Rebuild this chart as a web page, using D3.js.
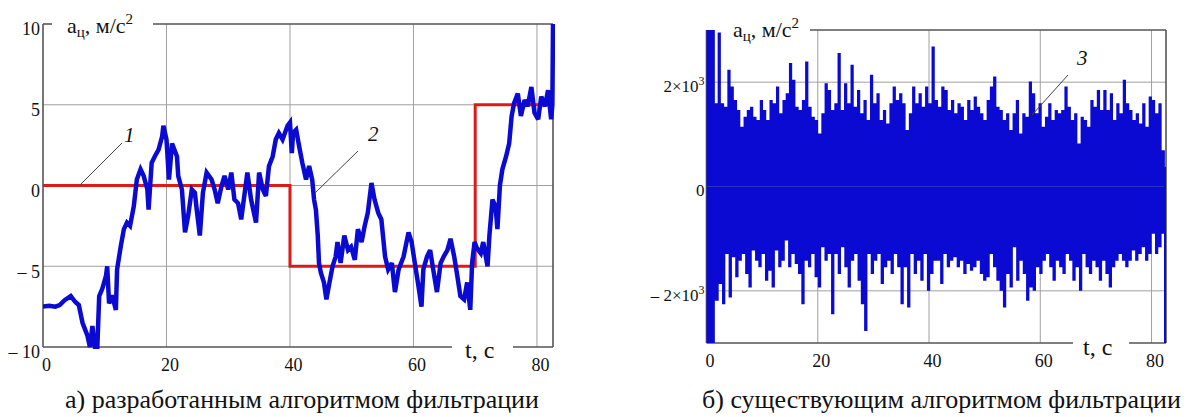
<!DOCTYPE html>
<html>
<head>
<meta charset="utf-8">
<script src="https://cdn.jsdelivr.net/npm/d3@7"></script>
<style>
  body { margin: 0; background: #fff; }
</style>
</head>
<body>
<div id="container"></div>
<script>
// ---- data ----
// (a) step reference, curve 1
const stepT = [0, 40, 40, 70, 70, 82.6];
const stepV = [0, 0, -5, -5, 5, 5];

// (a) filtered signal, curve 2
const filtT = [0,1,2,2.7,3.5,4.5,5.2,5.8,6.4,7.2,7.6,8.0,8.4,8.8,9.1,9.6,10.2,10.4,10.7,11.2,11.8,12.0,12.6,13.1,13.6,14.1,14.7,15.2,15.8,16.3,16.9,17.1,17.6,18.1,18.7,19.3,19.5,20.0,20.4,20.9,21.3,21.7,21.9,22.5,23.0,23.5,24.1,24.6,24.9,25.4,25.9,26.5,27.3,27.8,28.3,28.9,29.4,30.0,30.5,31.0,31.6,32.1,32.6,33.1,33.7,34.5,35.0,35.6,36.1,36.6,37.2,37.7,38.2,38.8,39.6,40.0,40.3,40.5,41.0,41.5,42.0,42.6,43.1,43.6,43.9,44.2,44.5,44.7,45.0,45.5,45.9,46.4,46.9,47.4,47.7,48.2,48.8,49.4,49.9,50.5,51.0,51.6,52.1,52.6,53.2,53.7,54.3,54.8,55.4,55.9,56.5,57.0,57.6,58.4,59.2,59.7,60.3,60.8,61.3,61.6,62.2,62.7,63.2,63.8,64.4,64.9,65.5,66.0,66.6,67.1,67.6,68.2,68.7,69.2,69.5,69.9,70.3,70.9,71.3,72.0,72.3,72.8,73.3,73.6,74.0,74.4,75.0,75.5,75.9,76.3,76.9,77.4,78.0,78.5,79.1,79.6,80.2,80.7,81.3,81.8,82.3,82.5,82.6];
const filtV = [-7.5,-7.45,-7.5,-7.4,-7.1,-6.85,-7.2,-7.4,-8.5,-9.3,-10,-8.7,-10,-10,-6.85,-6.4,-5.6,-5.0,-7.3,-6.8,-7.7,-5.2,-3.75,-2.7,-2.3,-2.5,-1.3,0.37,1.0,0.6,-0.25,-1.5,1.4,1.8,2.2,3.05,3.7,2.85,0.37,2.6,2.2,1.8,0.6,-0.25,-2.9,-1.9,-0.25,-0.45,-1.5,-3.1,-0.45,0.8,0.37,-0.25,-1.1,-0.05,0.6,-0.25,0.8,-0.87,-1.1,-2.1,-0.65,0.8,-0.87,-2.3,0.8,-0.25,-0.65,1.2,1.8,2.85,3.25,2.85,3.7,3.9,2.0,3.25,3.45,2.4,1.4,0.37,1.2,0.37,-0.87,-1.5,-3.1,-4.8,-5.4,-6.0,-7.05,-6.0,-5.0,-4.4,-3.5,-4.8,-3.1,-4.0,-3.8,-4.6,-2.7,-3.5,-2.5,-1.7,0.16,-0.87,-1.7,-2.1,-4.4,-5.2,-4.8,-6.6,-5.2,-4.4,-2.9,-3.5,-5.0,-6.2,-7.5,-5.2,-4.4,-4.0,-5.2,-6.6,-4.8,-4.4,-4.0,-3.3,-4.4,-5.6,-6.85,-7.05,-6.0,-7.7,-4.8,-3.5,-3.9,-4.2,-3.5,-5.0,-3.1,-0.87,-1.3,-2.7,0,1.0,1.8,2.6,4.3,5.1,5.7,4.3,5.3,4.9,6.1,4.5,4.1,5.5,4.9,5.9,4.1,5.0,10];

// (b) unfiltered signal, curve 3: saturated start, then peak envelope
const rawSatT = [0, 1.5];
const rawSatV = 3000;
const rawUpT0 = 2.0, rawUpT1 = 82.4;
const rawUpper = [2950,1596,1531,2237,1916,1660,1467,1146,1339,1467,1531,1339,1275,1660,1467,1275,1660,1596,1916,1403,1660,1788,2366,2045,1531,1467,1660,2398,1531,1339,1275,1018,1403,1980,1852,1467,1596,2558,1467,1980,1596,2334,1531,1852,1403,1660,1275,2141,1596,1788,1275,1467,1210,1596,1916,1660,1788,1596,1082,1403,1916,1596,1788,1531,1916,1596,2686,1660,
  1531,1916,1852,1467,1660,1403,1596,1531,1275,1660,1467,1724,1531,1403,1275,1660,1916,2109,1531,1467,1275,1403,1082,1403,1660,1018,1403,1339,2013,1788,1403,1596,1146,1339,1596,1275,1467,1403,1467,1916,1531,1275,1403,824,1339,1275,1146,1660,1531,1852,1467,1852,1467,1788,1275,1596,1403,2045,1596,1467,1275,1403,1210,1596,1146,1724,1660,1403,1596,696,375];
const rawLoT0 = 1.6, rawLoT1 = 82.4;
const rawLower = [-2191,-1870,-2255,-1293,-2127,-1357,-1742,-1421,-1293,-1677,-1934,-1229,-1421,-1549,-1293,-1806,-1613,-1934,-1229,-1549,-1421,-1036,-1549,-1293,-1485,-1677,-2255,-1421,-1549,-1293,-1742,-1934,-1165,-1421,-1293,-2447,-1293,-1677,-1165,-1549,-1934,-1421,-1293,-1806,-2255,-2768,-1293,-1677,-1421,-1293,-1870,-1549,-1421,-1677,-1293,-1549,-2255,-1549,-2320,-1293,-1677,-1421,-1806,-1293,-1998,-1677,-1421,
  -1421,-1870,-1293,-1549,-1421,-1357,-1549,-1421,-1677,-1485,-1613,-1549,-1421,-1677,-1806,-1742,-1293,-1549,-1806,-1998,-2320,-1677,-1934,-1165,-1806,-1421,-1677,-2191,-1934,-1998,-1549,-1677,-1421,-1293,-1549,-1806,-1421,-1549,-1677,-1293,-1421,-1806,-1549,-1998,-1293,-1549,-1677,-1421,-1549,-1806,-1421,-1677,-1934,-1549,-1421,-1293,-1421,-1549,-1421,-1229,-1421,-1293,-1165,-1421,-1293,-908,-1293,-1165,-908,-780];
const rawEndT = 82.6, rawEndV = -3000;

// tick labels
const xTicks = [0, 20, 40, 60, 80];
const yTicksA = [10, 5, 0, -5, -10];
const yTicksB = [2000, 0, -2000];

const blue = "#0a0ad2", red = "#dc1a1a", gridCol = "#a0a0a0", axisCol = "#555";
const serif = "'Liberation Serif', 'Times New Roman', 'DejaVu Serif', serif";

const svg = d3.select("#container").append("svg")
  .attr("width", 1200).attr("height", 417);

// ================= chart (a) =================
const xA = d3.scaleLinear().domain([0, 82.6]).range([43, 553]);
const yA = d3.scaleLinear().domain([-10, 10]).range([347, 24]);
const gA = svg.append("g");

gA.append("clipPath").attr("id", "clipA").append("rect")
  .attr("x", 43).attr("y", 22).attr("width", 512).attr("height", 327);

gA.selectAll(".vgrid").data([20, 40, 60, 80]).enter().append("line")
  .attr("x1", d => xA(d)).attr("x2", d => xA(d)).attr("y1", yA(10)).attr("y2", yA(-10))
  .attr("stroke", gridCol).attr("stroke-width", 1);
gA.selectAll(".hgrid").data([5, 0, -5]).enter().append("line")
  .attr("x1", xA(0)).attr("x2", xA(82.6)).attr("y1", d => yA(d)).attr("y2", d => yA(d))
  .attr("stroke", gridCol).attr("stroke-width", 1);

// frame with the gaps the labels sit in
const frameA = [
  [xA(0), yA(10), xA(0), yA(-10)],
  [xA(0), yA(-10), 452, yA(-10)],
  [513, yA(-10), xA(82.6), yA(-10)],
  [xA(82.6), yA(-10), xA(82.6), yA(10)],
  [153, yA(10), xA(82.6), yA(10)],
  [xA(0), yA(10), 52, yA(10)]
];
gA.selectAll(".frame").data(frameA).enter().append("line")
  .attr("x1", d => d[0]).attr("y1", d => d[1]).attr("x2", d => d[2]).attr("y2", d => d[3])
  .attr("stroke", axisCol).attr("stroke-width", 1.6);

const lineA = d3.line().x(d => xA(d[0])).y(d => yA(d[1]));
gA.append("path").datum(d3.zip(stepT, stepV))
  .attr("d", lineA).attr("fill", "none").attr("stroke", red).attr("stroke-width", 3)
  .attr("clip-path", "url(#clipA)");
gA.append("path").datum(d3.zip(filtT, filtV))
  .attr("d", lineA).attr("fill", "none").attr("stroke", blue).attr("stroke-width", 4.5)
  .attr("stroke-linejoin", "miter").attr("stroke-miterlimit", 3)
  .attr("clip-path", "url(#clipA)");

const minus = d => d < 0 ? "\u2013 " + (-d) : String(d);
gA.append("g").attr("transform", `translate(${xA(0)},0)`)
  .call(d3.axisLeft(yA).tickValues(yTicksA).tickSize(0).tickPadding(3).tickFormat(minus))
  .call(g => g.select(".domain").remove())
  .selectAll("text").attr("font-size", 18).attr("dy", "0.6em");
gA.append("g").attr("transform", `translate(0,${yA(-10)})`)
  .call(d3.axisBottom(xA).tickValues(xTicks).tickSize(0).tickPadding(11))
  .call(g => g.select(".domain").remove())
  .selectAll("text").attr("font-size", 18).attr("dx", 3);

function unitLabel(g, x, y) {
  const t = g.append("text").attr("x", x).attr("y", y).attr("font-size", 22);
  t.append("tspan").text("a");
  t.append("tspan").attr("font-size", 15).attr("dy", 4).text("ц");
  t.append("tspan").attr("dy", -4).text(", м/с");
  t.append("tspan").attr("font-size", 15).attr("dy", -9).text("2");
}
unitLabel(gA, 67, 33);
gA.append("text").attr("x", 465).attr("y", 358).attr("font-size", 24).text("t, c");

// leader lines and curve numbers
gA.append("line").attr("x1", 80).attr("y1", 185).attr("x2", 122).attr("y2", 143)
  .attr("stroke", "#444").attr("stroke-width", 1);
gA.append("text").attr("x", 124).attr("y", 142).attr("font-size", 21).attr("font-style", "italic").text("1");
gA.append("line").attr("x1", 315).attr("y1", 193).attr("x2", 358).attr("y2", 151)
  .attr("stroke", "#444").attr("stroke-width", 1);
gA.append("text").attr("x", 368).attr("y", 141).attr("font-size", 21).attr("font-style", "italic").text("2");

svg.append("text").attr("x", 65).attr("y", 408).attr("font-size", 26)
  .text("а) разработанным алгоритмом фильтрации");

// ================= chart (b) =================
const xB = d3.scaleLinear().domain([0, 82.6]).range([706.5, 1166]);
const yB = d3.scaleLinear().domain([-3000, 3000]).range([343, 30]);
const gB = svg.append("g");

gB.selectAll(".vgrid").data([20, 40, 60, 80]).enter().append("line")
  .attr("x1", d => xB(d)).attr("x2", d => xB(d)).attr("y1", yB(3000)).attr("y2", yB(-3000))
  .attr("stroke", gridCol).attr("stroke-width", 1);
gB.selectAll(".hgrid").data([2000, 0, -2000]).enter().append("line")
  .attr("x1", xB(0)).attr("x2", xB(82.6)).attr("y1", d => yB(d)).attr("y2", d => yB(d))
  .attr("stroke", gridCol).attr("stroke-width", 1);

const frameB = [
  [xB(0), yB(3000), xB(0), yB(-3000)],
  [xB(0), yB(-3000), 1073, yB(-3000)],
  [1129, yB(-3000), xB(82.6), yB(-3000)],
  [xB(82.6), yB(-3000), xB(82.6), yB(3000)],
  [810, yB(3000), xB(82.6), yB(3000)]
];
gB.selectAll(".frame").data(frameB).enter().append("line")
  .attr("x1", d => d[0]).attr("y1", d => d[1]).attr("x2", d => d[2]).attr("y2", d => d[3])
  .attr("stroke", axisCol).attr("stroke-width", 1.6);

// envelope points
const upPts = [[rawSatT[0], rawSatV], [rawSatT[1], rawUpper[1]]]
  .concat(rawUpper.map((v, i) => [rawUpT0 + i * (rawUpT1 - rawUpT0) / (rawUpper.length - 1), v]))
  .concat([[rawEndT, rawUpper[rawUpper.length - 1]]]);
const loPts = [[rawSatT[0], -rawSatV], [rawSatT[1], rawLower[0]]]
  .concat(rawLower.map((v, i) => [rawLoT0 + i * (rawLoT1 - rawLoT0) / (rawLower.length - 1), v]))
  .concat([[rawEndT, rawLower[rawLower.length - 1]]]);

const areaB = d3.area().curve(d3.curveStepAfter)
  .x(d => xB(d[0])).y0(yB(0)).y1(d => yB(d[1]));
gB.append("path").datum(upPts).attr("d", areaB).attr("fill", blue);
gB.append("path").datum(loPts).attr("d", areaB).attr("fill", blue);
gB.append("line")
  .attr("x1", xB(rawEndT) - 1).attr("x2", xB(rawEndT) - 1)
  .attr("y1", yB(rawUpper[rawUpper.length - 1])).attr("y2", yB(rawEndV))
  .attr("stroke", blue).attr("stroke-width", 2);

// y labels with powers of ten
const yAxB = gB.append("g").attr("transform", `translate(${xB(0)},0)`)
  .call(d3.axisLeft(yB).tickValues(yTicksB).tickSize(0).tickPadding(2).tickFormat(""))
  .call(g => g.select(".domain").remove());
yAxB.selectAll(".tick text").attr("font-size", 17).attr("dy", "0.55em")
  .each(function(d) {
    const t = d3.select(this);
    if (d === 0) { t.text("0"); return; }
    t.append("tspan").text((d < 0 ? "\u2013 " : "") + "2\u00d710");
    t.append("tspan").attr("font-size", 12).attr("dy", -7).text("3");
  });
gB.append("g").attr("transform", `translate(0,${yB(-3000)})`)
  .call(d3.axisBottom(xB).tickValues(xTicks).tickSize(0).tickPadding(11))
  .call(g => g.select(".domain").remove())
  .selectAll("text").attr("font-size", 18).attr("dx", 3);

unitLabel(gB, 733, 37);
gB.append("text").attr("x", 1083).attr("y", 355).attr("font-size", 24).text("t, c");

gB.append("line").attr("x1", 1032).attr("y1", 115).attr("x2", 1068).attr("y2", 75)
  .attr("stroke", "#444").attr("stroke-width", 1);
gB.append("text").attr("x", 1077).attr("y", 65).attr("font-size", 21).attr("font-style", "italic").text("3");

svg.append("text").attr("x", 702).attr("y", 408).attr("font-size", 26)
  .text("б) существующим алгоритмом фильтрации");

// one serif face for every label, axes included
svg.selectAll("text").style("font-family", serif).style("fill", "#111");
</script>
</body>
</html>
